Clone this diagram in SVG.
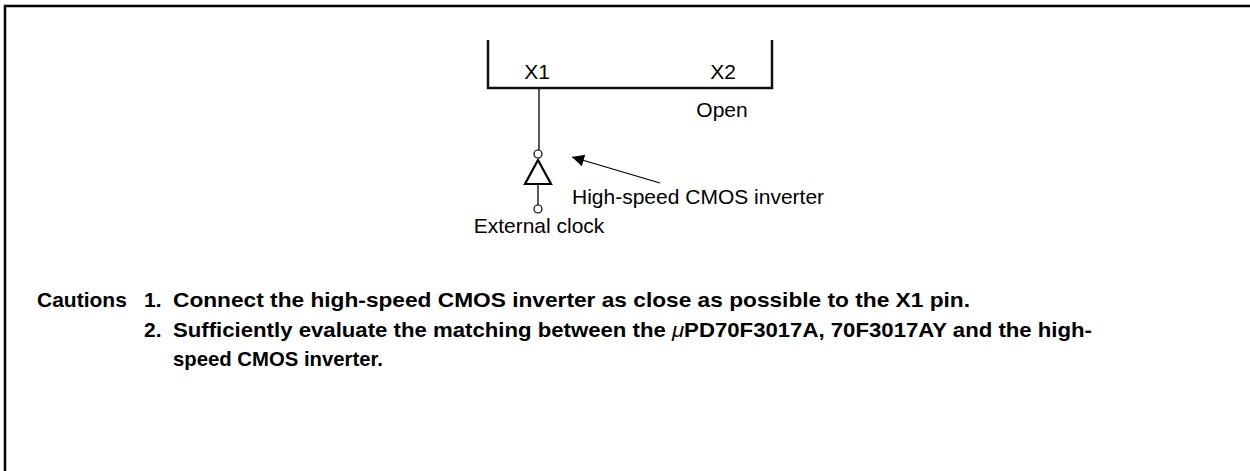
<svg xmlns="http://www.w3.org/2000/svg" width="1250" height="471" viewBox="0 0 1250 471">
<defs>
<style>
.ln{stroke:#000;fill:none;stroke-width:1.3}
.br{stroke:#111;fill:none;stroke-width:2.5}
.t{font-family:"Liberation Sans",Arial,Helvetica,sans-serif;font-size:21px;fill:#000}
.b{font-family:"Liberation Sans",Arial,Helvetica,sans-serif;font-size:21px;font-weight:bold;fill:#000}
</style>
<marker id="ah" viewBox="0 0 10 10" refX="10" refY="5" markerWidth="22" markerHeight="12" markerUnits="userSpaceOnUse" orient="auto">
<path d="M0,0 L10,5 L0,10 Z" fill="#000"/>
</marker>
</defs>
<rect width="1250" height="471" fill="#fff"/>
<g id="frame"><path d="M5,471 V6 H1250" stroke="#000" stroke-width="2.5" fill="none"/></g>
<g id="chip">
<path class="br" d="M488,40 V88 H772 V40"/>
<text class="t" x="537" y="79" text-anchor="middle">X1</text>
<text class="t" x="723" y="79" text-anchor="middle">X2</text>
<text class="t" x="722" y="117" text-anchor="middle">Open</text>
</g>
<g id="inverter">
<path d="M538,160 L525,184 L551,184 Z" fill="none" stroke="#000" stroke-width="2.2"/>
<circle cx="538" cy="154" r="4" fill="#fff" stroke="#000" stroke-width="1.2"/>
<circle cx="538" cy="209" r="4" fill="#fff" stroke="#000" stroke-width="1.2"/>
<text class="t" x="572" y="204">High-speed CMOS inverter</text>
</g>
<g id="clock">
<text class="t" x="539" y="233" text-anchor="middle">External clock</text>
</g>
<g id="connectors">
<line class="ln" x1="539" y1="88" x2="539" y2="150"/>
<line class="ln" x1="538" y1="185" x2="538" y2="205"/>
<line class="ln" x1="660" y1="183" x2="572" y2="157" marker-end="url(#ah)"/>
</g>
<g id="cautions">
<text class="b" x="37" y="307">Cautions</text>
<text class="b" x="144" y="307">1.</text>
<text class="b" x="173" y="307" textLength="797" lengthAdjust="spacingAndGlyphs">Connect the high-speed CMOS inverter as close as possible to the X1 pin.</text>
<text class="b" x="144" y="337">2.</text>
<text class="b" x="173" y="337" textLength="919" lengthAdjust="spacingAndGlyphs">Sufficiently evaluate the matching between the <tspan font-style="italic" font-weight="normal">μ</tspan>PD70F3017A, 70F3017AY and the high-</text>
<text class="b" x="173" y="366" textLength="210" lengthAdjust="spacingAndGlyphs">speed CMOS inverter.</text>
</g>
</svg>
